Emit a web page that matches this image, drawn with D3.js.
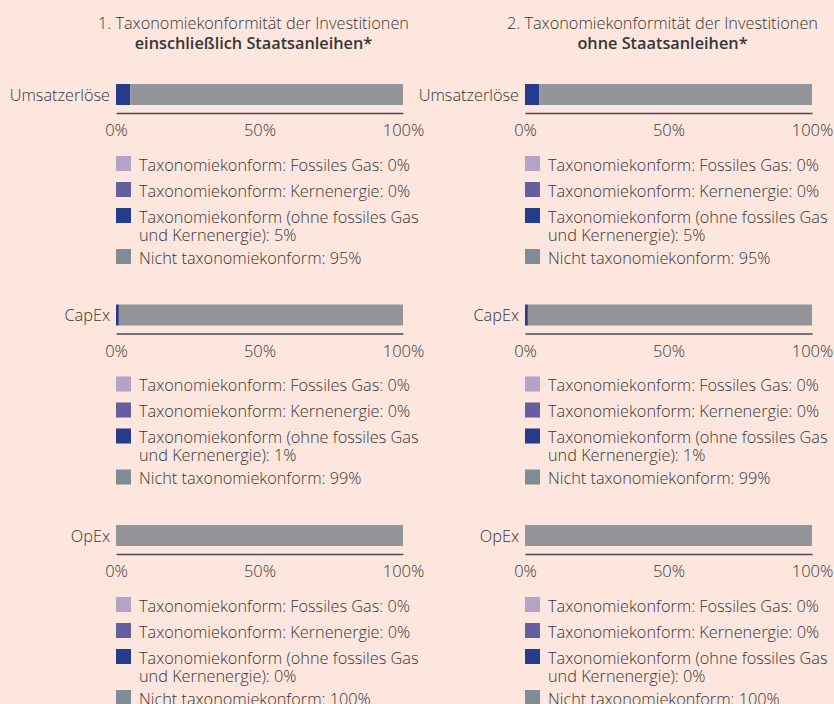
<!DOCTYPE html>
<html>
<head>
<meta charset="utf-8">
<script src="https://cdn.jsdelivr.net/npm/d3@7"></script>
<style>
  body { margin: 0; background: #fde6dd; }
  svg { display: block; font-family: "Open Sans", sans-serif; font-weight: 300; }
</style>
</head>
<body>
<svg id="chart" width="834" height="704"></svg>
<script>
// chart data
const categories = ['Umsatzerlöse', 'CapEx', 'OpEx'];
const segments = [
  'Taxonomiekonform: Fossiles Gas',
  'Taxonomiekonform: Kernenergie',
  'Taxonomiekonform (ohne fossiles Gas und Kernenergie)',
  'Nicht taxonomiekonform'
];
// legend text split into lines (third one wraps)
const legendLines = [
  ['Taxonomiekonform: Fossiles Gas'],
  ['Taxonomiekonform: Kernenergie'],
  ['Taxonomiekonform (ohne fossiles Gas', 'und Kernenergie)'],
  ['Nicht taxonomiekonform']
];
const barColors = ['#b3a3c5', '#655f9f', '#253b8c', '#939598'];
const legendColors = ['#b3a3c5', '#655f9f', '#253b8c', '#7f8c94'];

// one row per category, values per segment in %
const valuesInkl = [
  [0, 0, 5, 95],
  [0, 0, 1, 99],
  [0, 0, 0, 100]
];
const valuesOhne = [
  [0, 0, 5, 95],
  [0, 0, 1, 99],
  [0, 0, 0, 100]
];
const tickValues = [0, 50, 100];

const panels = [
  { title: '1. Taxonomiekonformität der Investitionen', bold: 'einschließlich Staatsanleihen*', values: valuesInkl, x0: 116 },
  { title: '2. Taxonomiekonformität der Investitionen', bold: 'ohne Staatsanleihen*', values: valuesOhne, x0: 525 }
];

const textColor = '#363638';
const fontSize = 16.3;
const barWidth = 287;
const barHeight = 21;
const blockStep = 220.5;
const firstBarTop = 84;

const svg = d3.select('#chart');

panels.forEach(p => {
  const g = svg.append('g');
  const x = d3.scaleLinear().domain([0, 100]).range([p.x0, p.x0 + barWidth]);
  const cx = p.x0 + barWidth / 2 - 6;

  g.append('text')
    .attr('x', cx).attr('y', 29)
    .attr('text-anchor', 'middle')
    .attr('font-size', fontSize)
    .attr('fill', textColor)
    .text(p.title);
  g.append('text')
    .attr('x', cx).attr('y', 48.5)
    .attr('text-anchor', 'middle')
    .attr('font-size', fontSize)
    .attr('font-weight', 600)
    .attr('fill', textColor)
    .text(p.bold);

  categories.forEach((cat, i) => {
    const top = firstBarTop + i * blockStep;
    const row = p.values[i];
    const stacked = d3.stack().keys(d3.range(segments.length))([row])
      .map((s, k) => ({ k, x0: s[0][0], x1: s[0][1] }));

    const block = g.append('g');

    block.selectAll('rect.seg')
      .data(stacked.filter(d => d.x1 > d.x0))
      .enter().append('rect')
      .attr('class', 'seg')
      .attr('x', d => x(d.x0))
      .attr('y', top)
      .attr('width', d => x(d.x1) - x(d.x0))
      .attr('height', barHeight)
      .attr('fill', d => barColors[d.k]);

    block.append('text')
      .attr('x', p.x0 - 6)
      .attr('y', top + barHeight / 2 + 6)
      .attr('text-anchor', 'end')
      .attr('font-size', fontSize)
      .attr('fill', textColor)
      .text(cat);

    const axis = d3.axisBottom(x)
      .tickValues(tickValues)
      .tickSize(0)
      .tickPadding(11.5)
      .tickFormat(d => d + '%');

    const ax = block.append('g')
      .attr('transform', `translate(0,${top + 29})`)
      .call(axis);
    ax.select('.domain').attr('stroke', '#4a4a55').attr('stroke-width', 1.3);
    ax.selectAll('text')
      .attr('font-size', 16.5)
      .attr('font-family', '"Open Sans", sans-serif')
      .attr('font-weight', 300)
      .attr('fill', textColor);

    // legend
    let ly = top + 72;
    legendLines.forEach((lines, k) => {
      const item = block.append('g');
      item.append('rect')
        .attr('x', p.x0).attr('y', ly)
        .attr('width', 15).attr('height', 15)
        .attr('fill', legendColors[k]);
      const t = item.append('text')
        .attr('font-size', fontSize)
        .attr('fill', textColor);
      lines.forEach((line, j) => {
        const last = j === lines.length - 1;
        t.append('tspan')
          .attr('x', p.x0 + 23)
          .attr('y', ly + 14.5 + j * 18)
          .text(last ? `${line}: ${row[k]}%` : line);
      });
      ly += 26 + (lines.length - 1) * 15;
    });
  });
});
</script>
</body>
</html>
